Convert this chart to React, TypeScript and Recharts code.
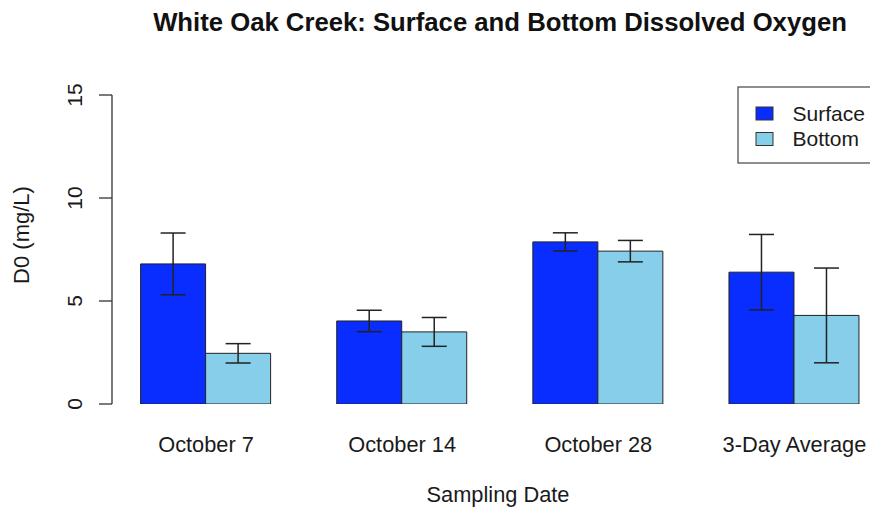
import React from 'react';
import { BarChart, Bar, XAxis, YAxis, ErrorBar } from 'recharts';

const categories = ['October 7', 'October 14', 'October 28', '3-Day Average'];
const surface = [6.8, 4.03, 7.87, 6.4];
const surfaceErr = [1.5, 0.52, 0.44, 1.83];
const bottom = [2.46, 3.5, 7.42, 4.3];
const bottomErr = [0.47, 0.7, 0.52, 2.3];
const yTicks = [0, 5, 10, 15];
const seriesNames = ['Surface', 'Bottom'];

const data = categories.map((c, i) => ({
  name: c,
  Surface: surface[i],
  errS: surfaceErr[i],
  Bottom: bottom[i],
  errB: bottomErr[i],
}));

const FONT = '"Liberation Sans", Arial, Helvetica, sans-serif';
const SURF = '#0a2dff';
const BOT = '#87ceeb';
const TXT = '#1a1a1a';

const YTick = (props: any) => {
  const { y, payload } = props;
  return (
    <text
      transform={`translate(82, ${y}) rotate(-90)`}
      textAnchor="middle"
      fontFamily={FONT}
      fontSize={21}
      fill={TXT}
    >
      {payload.value}
    </text>
  );
};

const XTick = (props: any) => {
  const { x, payload } = props;
  return (
    <text x={x} y={452} textAnchor="middle" fontFamily={FONT} fontSize={21.8} fill={TXT}>
      {payload.value}
    </text>
  );
};

export default function App() {
  const legendColors = [SURF, BOT];
  return (
    <div style={{ position: 'fixed', left: 0, top: 0, width: 870, height: 510, overflow: 'hidden', background: '#fff' }}>
      <BarChart
        width={900}
        height={510}
        data={data}
        margin={{ top: 95, bottom: 0, left: 0, right: 7.5 }}
        barCategoryGap={32.6}
        barGap={0}
        style={{ position: 'absolute', left: 0, top: 0 }}
      >
        <XAxis
          dataKey="name"
          axisLine={false}
          tickLine={false}
          tick={<XTick />}
          padding={{ left: -4, right: 0 }}
          height={106}
          interval={0}
        />
        <YAxis
          width={112}
          domain={[0, 15]}
          ticks={yTicks}
          type="number"
          allowDataOverflow
          axisLine={{ stroke: '#333', strokeWidth: 1.3 }}
          tickLine={{ stroke: '#333', strokeWidth: 1.3 }}
          tickSize={13}
          tick={<YTick />}
        />
        <Bar dataKey="Surface" fill={SURF} stroke="#222" strokeWidth={1} isAnimationActive={false}>
          <ErrorBar dataKey="errS" width={12.5} stroke="#222" strokeWidth={1.5} isAnimationActive={false} />
        </Bar>
        <Bar dataKey="Bottom" fill={BOT} stroke="#222" strokeWidth={1} isAnimationActive={false}>
          <ErrorBar dataKey="errB" width={12.5} stroke="#222" strokeWidth={1.5} isAnimationActive={false} />
        </Bar>
      </BarChart>
      <svg
        width={870}
        height={510}
        style={{ position: 'absolute', left: 0, top: 0, pointerEvents: 'none' }}
        fontFamily={FONT}
      >
        <text x={500} y={30.5} textAnchor="middle" fontSize={25.7} fontWeight="bold" fill="#111">
          White Oak Creek: Surface and Bottom Dissolved Oxygen
        </text>
        <text x={498} y={501.5} textAnchor="middle" fontSize={21.8} fill={TXT}>
          Sampling Date
        </text>
        <text transform="translate(29, 235) rotate(-90)" textAnchor="middle" fontSize={22} fill={TXT}>
          D0 (mg/L)
        </text>
        <rect x={738} y={87} width={140} height={76} fill="#fff" stroke="#444" strokeWidth={1.2} />
        {seriesNames.map((n, i) => (
          <g key={n}>
            <rect x={756} y={107 + i * 25.5} width={17} height={13} fill={legendColors[i]} stroke="#333" strokeWidth={1} />
            <text x={792.5} y={120.5 + i * 25.5} fontSize={21} fill={TXT}>
              {n}
            </text>
          </g>
        ))}
      </svg>
    </div>
  );
}
